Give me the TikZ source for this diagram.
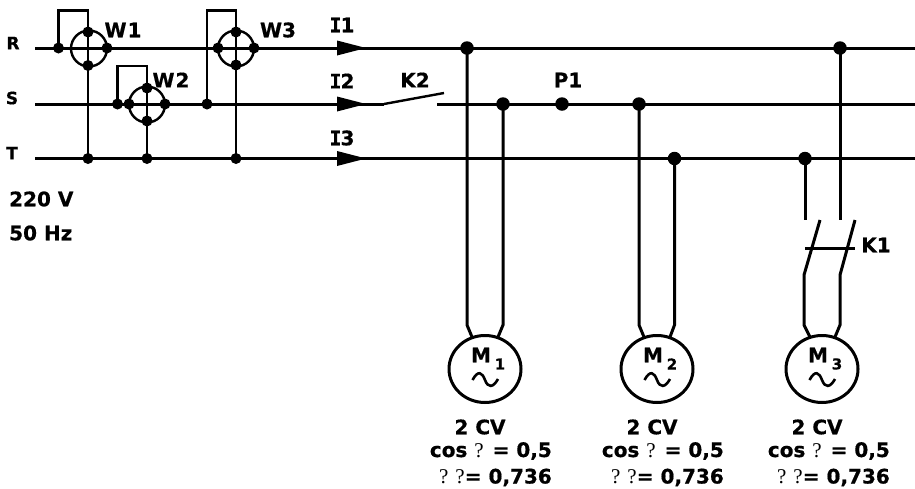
\documentclass[tikz,border=0pt]{standalone}
\usepackage{fontspec}
\setmainfont{DejaVu Sans}[BoldFont={DejaVu Sans Bold},BoldFeatures={FakeBold=0.6}]
\newfontfamily\qfont{Liberation Serif}
\newfontfamily\ifont{DejaVu Sans Mono Bold}[FakeBold=0.6]
\usetikzlibrary{shapes.geometric}
\tikzset{
 x=1pt,y=-1pt,
 bus/.style={line width=3pt},
 wire/.style={line width=3pt,line join=miter},
 thinwire/.style={line width=2.4pt},
 dot/.style={circle,fill=black,inner sep=0pt,minimum size=13.5pt},
 sdot/.style={circle,fill=black,inner sep=0pt,minimum size=11pt},
 lbl/.style={font=\fontsize{20}{22}\selectfont\bfseries,inner sep=0pt},
 rst/.style={font=\fontsize{17}{18}\selectfont\bfseries,inner sep=0pt},
 sub/.style={font=\fontsize{15}{16}\selectfont\bfseries,inner sep=0pt},
 motor/.style={ellipse,draw,line width=3pt,minimum width=72pt,minimum height=67pt,inner sep=0pt},
 meter/.style={circle,draw,line width=2.4pt,minimum size=36pt,inner sep=0pt},
 head/.style={fill=black,draw=none},
}
\newcommand{\qm}{{\qfont\mdseries\fontsize{21}{21}\selectfont ?}}
\newcommand{\capI}{{\ifont\fontsize{20}{22}\selectfont I}}
\begin{document}
\begin{tikzpicture}
\useasboundingbox (0,0) rectangle (915,488);
% bus ends
\coordinate (Rs) at (35,48); \coordinate (Re) at (915,48);
\coordinate (Ss) at (35,104); \coordinate (Se) at (915,104);
\coordinate (Ts) at (35,158.5); \coordinate (Te) at (915,158.5);
\coordinate (K2a) at (384,104); \coordinate (K2b) at (444,93); \coordinate (K2c) at (437,104);
\draw[bus] (Rs) -- (Re);
\draw[bus] (Ss) -- (K2a);
\draw[bus] (K2c) -- (Se);
\draw[bus] (Ts) -- (Te);
\draw[thinwire] (K2a) -- (K2b);
% meters
\node[meter] (W1) at (89,48.5) {};
\node[meter] (W2) at (147,104.5) {};
\node[meter] (W3) at (236,48.5) {};
\node[sdot] (W1r) at (107,48) {};
\node[sdot] (W1t) at (88,32) {};
\node[sdot] (W1b) at (88,65.5) {};
\foreach \m/\x/\y in {W2/147/104,W3/236/48}{
 \node[sdot] (\m l) at (\x-18,\y) {};
 \node[sdot] (\m r) at (\x+18,\y) {};
 \node[sdot] (\m t) at (\x,\y-16) {};
 \node[sdot] (\m b) at (\x,\y+17) {};
}
\node[sdot] (W1i) at (58.5,48) {};
\node[sdot] (W2i) at (117.5,104) {};
\node[sdot] (W3i) at (207,104) {};
\node[sdot] (W1T) at (88,158.5) {};
\node[sdot] (W2T) at (147,158.5) {};
\node[sdot] (W3T) at (236,158.5) {};
\coordinate (W1c) at (58.5,10.5); \coordinate (W1d) at (88,10.5);
\coordinate (W2c) at (117.5,66); \coordinate (W2d) at (147,66);
\coordinate (W3c) at (207,10.5); \coordinate (W3d) at (236,10.5);
\draw[thinwire] (W1i.center) -- (W1c) -- (W1d) -- (W1T.center);
\draw[thinwire] (W2i.center) -- (W2c) -- (W2d) -- (W2T.center);
\draw[thinwire] (W3i.center) -- (W3c) -- (W3d) -- (W3T.center);
% current arrows
\foreach \n/\y in {a/48,b/104,c/158.5}{
 \coordinate (\n1) at (337,\y-7.5); \coordinate (\n2) at (366,\y); \coordinate (\n3) at (337,\y+7.5);
 \fill[head] (\n1) -- (\n2) -- (\n3) -- cycle;
}
% junctions
\node[dot] (J1) at (467,48) {};
\node[dot] (J2) at (503,104) {};
\node[dot] (P1) at (562,104) {};
\node[dot] (J3) at (639,104) {};
\node[dot] (J4) at (674.5,158.5) {};
\node[dot] (J5) at (805,158.5) {};
\node[dot] (J6) at (840,48) {};
% motors
\node[motor] (M1) at (485,369) {};
\node[motor] (M2) at (657,369) {};
\node[motor] (M3) at (822,369) {};
\coordinate (A1) at (467,325); \coordinate (A2) at (472,337);
\coordinate (B1) at (503,325); \coordinate (B2) at (498,337);
\coordinate (C1) at (639,325); \coordinate (C2) at (644,337);
\coordinate (D1) at (674.5,325); \coordinate (D2) at (670,337);
\draw[wire] (J1.center) -- (A1) -- (A2);
\draw[wire] (J2.center) -- (B1) -- (B2);
\draw[wire] (J3.center) -- (C1) -- (C2);
\draw[wire] (J4.center) -- (D1) -- (D2);
% K1
\coordinate (E0) at (805,220); \coordinate (E1) at (820,220); \coordinate (E2) at (804,275);
\coordinate (E3) at (804,325); \coordinate (E4) at (810,337);
\coordinate (F0) at (840,220); \coordinate (F1) at (855,220); \coordinate (F2) at (840,275);
\coordinate (F3) at (840,325); \coordinate (F4) at (835,337);
\coordinate (K1a) at (805,248); \coordinate (K1b) at (855,248);
\draw[wire] (J5.center) -- (E0);
\draw[wire] (J6.center) -- (F0);
\draw[wire] (E1) -- (E2) -- (E3) -- (E4);
\draw[wire] (F1) -- (F2) -- (F3) -- (F4);
\draw[wire] (K1a) -- (K1b);
% tildes
\foreach \c in {485,657,822}{
 \draw[line width=2.6pt] (\c-12.5,380) .. controls (\c-7,370) and (\c-3,372) .. (\c,380) .. controls (\c+3,388) and (\c+8,388) .. (\c+13,379);
}
% labels
\node[rst] (lR) at (13,43) {R};
\node[rst] (lS) at (12,98) {S};
\node[rst] (lT) at (12,153) {T};
\node[lbl] (lW1) at (123,30) {W\kern1pt1};
\node[lbl] (lW2) at (171,80) {W\kern1pt2};
\node[lbl] (lW3) at (278,30) {W3};
\node[lbl] (lI1) at (342,25) {\capI\kern-1pt 1};
\node[lbl] (lI2) at (342,81) {\capI\kern-1pt 2};
\node[lbl] (lI3) at (342,138) {\capI\kern-1pt 3};
\node[lbl] (lK2) at (415,80) {K2};
\node[lbl] (lP1) at (568,80) {P1};
\node[lbl] (lK1) at (876,245) {K1};
\node[lbl,anchor=west] (lV) at (9,199) {220 V};
\node[lbl,anchor=west] (lH) at (9,233) {50 Hz};
\foreach \c/\n in {485/1,657/2,822/3}{
 \node[lbl] (mm\n) at (\c-4,355) {M};
 \node[sub] (ms\n) at (\c+15,364) {\n};
}
\foreach \c/\n in {480/1,652/2,817/3}{
 \node[lbl] (cv\n) at (\c,427) {2 CV};
}
\foreach \r/\n in {552/1,724/2,890/3}{
 \node[lbl,anchor=east] (cs\n) at (\r,451) {cos \qm\kern2pt\ = 0,5};
 \node[lbl,anchor=east] (et\n) at (\r,477.5) {\qm\ \qm= 0,736};
}
\end{tikzpicture}
\end{document}
